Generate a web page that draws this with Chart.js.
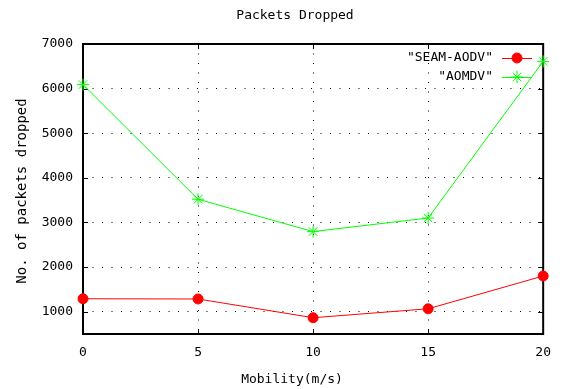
<!DOCTYPE html>
<html>
<head>
<meta charset="utf-8">
<script src="https://cdn.jsdelivr.net/npm/chart.js@4/dist/chart.umd.min.js"></script>
<style>
  html, body { margin: 0; padding: 0; background: #fff; }
  #wrap { width: 562px; height: 389px; }
</style>
</head>
<body>
<div id="wrap"><canvas id="packetsChart"></canvas></div>
<script>
// Mobility (m/s) on the x axis
const mobility = [0, 5, 10, 15, 20];
// packets dropped
const seamAodv = [1290, 1285, 865, 1065, 1800];
const aomdv = [6090, 3520, 2795, 3100, 6610];
// tick labels
const xTicks = [0, 5, 10, 15, 20];
const yTicks = [1000, 2000, 3000, 4000, 5000, 6000, 7000];

const FONT = '"DejaVu Sans Mono", "Liberation Mono", monospace';

function toPoints(values) {
    return mobility.map(function(m, i) { return { x: m, y: values[i] }; });
}

// gnuplot style frame, inward ticks, title, axis labels and legend
const gnuplotLook = {
    id: 'gnuplotLook',
    beforeDatasetsDraw: function(chart) {
        const ctx = chart.ctx;
        const a = chart.chartArea;
        const xs = chart.scales.x;
        const ys = chart.scales.y;
        ctx.save();
        ctx.strokeStyle = '#000';
        ctx.lineWidth = 1;
        ctx.beginPath();
        xTicks.forEach(function(v) {
            const px = Math.round(xs.getPixelForValue(v)) + 0.5;
            ctx.moveTo(px, a.bottom); ctx.lineTo(px, a.bottom - 5);
            ctx.moveTo(px, a.top); ctx.lineTo(px, a.top + 5);
        });
        yTicks.forEach(function(v) {
            const py = Math.round(ys.getPixelForValue(v)) + 0.5;
            ctx.moveTo(a.left, py); ctx.lineTo(a.left + 5, py);
            ctx.moveTo(a.right, py); ctx.lineTo(a.right - 5, py);
        });
        ctx.stroke();
        ctx.lineWidth = 2;
        ctx.strokeRect(a.left, a.top, a.right - a.left, a.bottom - a.top);
        ctx.restore();
    },
    afterDraw: function(chart) {
        const ctx = chart.ctx;
        ctx.save();
        ctx.fillStyle = '#000';
        ctx.font = '13px ' + FONT;
        ctx.textAlign = 'center';
        ctx.textBaseline = 'middle';
        ctx.fillText('Packets Dropped', 295, 16);
        ctx.fillText('Mobility(m/s)', 292, 380);
        ctx.font = '14px ' + FONT;
        ctx.translate(22, 191);
        ctx.rotate(-Math.PI / 2);
        ctx.fillText('No. of packets dropped', 0, 0);
        ctx.restore();

        // legend, text right aligned with sample line to the right
        ctx.save();
        ctx.font = '13px ' + FONT;
        ctx.textAlign = 'right';
        ctx.textBaseline = 'middle';
        chart.data.datasets.forEach(function(ds, i) {
            const y = 58 + i * 19;
            ctx.fillStyle = '#000';
            ctx.fillText('"' + ds.label + '"', 493, y);
            ctx.strokeStyle = ds.borderColor;
            ctx.fillStyle = ds.borderColor;
            ctx.lineWidth = 1;
            ctx.beginPath();
            ctx.moveTo(502, y + 0.5); ctx.lineTo(532, y + 0.5);
            ctx.stroke();
            Chart.helpers.drawPoint(ctx, {
                pointStyle: ds.pointStyle,
                radius: ds.pointRadius,
                borderWidth: ds.pointBorderWidth || 1
            }, 517, y);
        });
        ctx.restore();
    }
};

new Chart(document.getElementById('packetsChart'), {
    type: 'scatter',
    data: {
        datasets: [{
            label: 'SEAM-AODV',
            data: toPoints(seamAodv),
            showLine: true,
            borderColor: '#ff0000',
            backgroundColor: '#ff0000',
            borderWidth: 1,
            pointStyle: 'circle',
            pointRadius: 5,
            pointBorderWidth: 1,
            clip: false
        }, {
            label: 'AOMDV',
            data: toPoints(aomdv),
            showLine: true,
            borderColor: '#00ff00',
            backgroundColor: '#00ff00',
            borderWidth: 1,
            pointStyle: 'star',
            pointRadius: 6,
            pointBorderWidth: 1,
            clip: false
        }]
    },
    options: {
        responsive: true,
        maintainAspectRatio: false,
        animation: false,
        layout: {
            padding: { left: 0, right: 17, top: 44, bottom: 0 }
        },
        plugins: {
            legend: { display: false },
            title: { display: false },
            tooltip: { enabled: false }
        },
        scales: {
            x: {
                type: 'linear',
                min: 0,
                max: 20,
                afterBuildTicks: function(scale) {
                    scale.ticks = xTicks.map(function(v) { return { value: v }; });
                },
                afterFit: function(scale) { scale.height = 55; },
                border: { display: false, dash: [1, 8.5] },
                grid: {
                    color: '#000',
                    lineWidth: 1,
                    drawTicks: false
                },
                ticks: {
                    color: '#000',
                    padding: 11,
                    maxRotation: 0,
                    font: { family: FONT, size: 13 },
                    callback: function(v) { return String(v); }
                }
            },
            y: {
                min: 500,
                max: 7000,
                afterBuildTicks: function(scale) {
                    scale.ticks = yTicks.map(function(v) { return { value: v }; });
                },
                afterFit: function(scale) { scale.width = 83; },
                border: { display: false, dash: [1, 8.5] },
                grid: {
                    color: '#000',
                    lineWidth: 1,
                    drawTicks: false
                },
                ticks: {
                    color: '#000',
                    padding: 10,
                    font: { family: FONT, size: 13 },
                    callback: function(v) { return String(v); }
                }
            }
        }
    },
    plugins: [gnuplotLook]
});
</script>
</body>
</html>
